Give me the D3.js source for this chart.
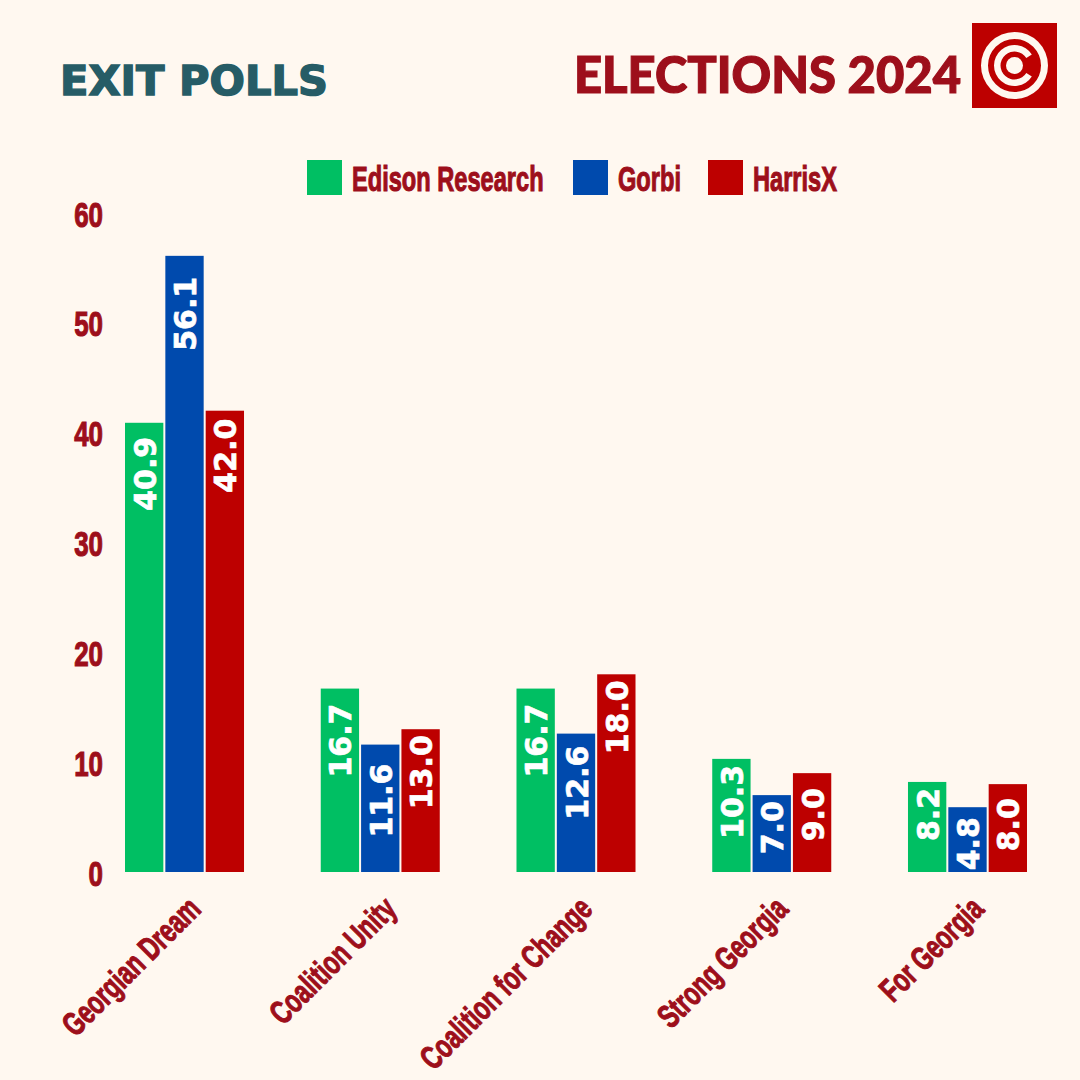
<!DOCTYPE html>
<html>
<head>
<meta charset="utf-8">
<script src="https://cdn.jsdelivr.net/npm/d3@7"></script>
<style>
html, body { margin: 0; padding: 0; background: #fff8f0; }
svg { display: block; }
</style>
</head>
<body>
<svg id="canvas" width="1080" height="1080"></svg>
<script>
var parties = ['Georgian Dream', 'Coalition Unity', 'Coalition for Change', 'Strong Georgia', 'For Georgia'];
var pollsters = ['Edison Research', 'Gorbi', 'HarrisX'];
var edison = [40.9, 16.7, 16.7, 10.3, 8.2];
// last bar is drawn about 5.9 tall in the picture though its label reads 4.8
var gorbi = [56.1, 11.6, 12.6, 7.0, 5.9];
var harris = [42.0, 13.0, 18.0, 9.0, 8.0];
var edisonLabels = ['40.9', '16.7', '16.7', '10.3', '8.2'];
var gorbiLabels = ['56.1', '11.6', '12.6', '7.0', '4.8'];
var harrisLabels = ['42.0', '13.0', '18.0', '9.0', '8.0'];
var yTicks = [0, 10, 20, 30, 40, 50, 60];
var colors = ['#00bf63', '#004aad', '#bd0000'];

var darkRed = '#9d0f1b';
var teal = '#265c66';
var paper = '#fff8f0';
var heavy = '"Liberation Sans", sans-serif';
var series = [edison, gorbi, harris];
var seriesLabels = [edisonLabels, gorbiLabels, harrisLabels];

// the labels do not sit at one distance under the bar tops, so per party, per pollster
var labelInsets = [[14, 21, 8], [15, 19, 6], [15, 12, 6], [6, 6, 15], [6, 10, 14]];

var canvas = d3.select('#canvas');

var y = d3.scaleLinear().domain([0, 60]).range([872, 213]);
var x0 = d3.scaleBand().domain(parties).range([125, 1027]).paddingInner(0.392);
var x1 = d3.scaleBand().domain(pollsters).range([0, x0.bandwidth()]).paddingInner(0.05);

// bars, one group per party
var groups = canvas.selectAll('g.party')
    .data(parties)
    .enter()
    .append('g')
    .attr('class', 'party')
    .attr('transform', function(d) { return 'translate(' + x0(d) + ',0)'; });

groups.selectAll('rect')
    .data(function(d, i) {
        return pollsters.map(function(p, j) {
            return { pollster: p, value: series[j][i], color: colors[j] };
        });
    })
    .enter()
    .append('rect')
    .attr('x', function(d) { return x1(d.pollster); })
    .attr('y', function(d) { return y(d.value); })
    .attr('width', x1.bandwidth())
    .attr('height', function(d) { return y(0) - y(d.value); })
    .attr('fill', function(d) { return d.color; });

// value labels run up the bar
groups.selectAll('text')
    .data(function(d, i) {
        return pollsters.map(function(p, j) {
            return { pollster: p, value: series[j][i], label: seriesLabels[j][i], inset: labelInsets[i][j] };
        });
    })
    .enter()
    .append('text')
    .attr('transform', function(d) {
        return 'translate(' + (x1(d.pollster) + x1.bandwidth() / 2 + 11.5) + ',' + (y(d.value) + d.inset) + ') rotate(-90)';
    })
    .attr('text-anchor', 'end')
    .attr('fill', '#ffffff')
    .attr('stroke', '#ffffff')
    .attr('stroke-width', 0.7)
    .style('font-family', '"DejaVu Sans", sans-serif')
    .style('font-weight', 'bold')
    .style('font-size', '30px')
    .text(function(d) { return d.label; });

// y axis
var yAxis = canvas.append('g')
    .attr('transform', 'translate(103,0)')
    .call(d3.axisLeft(y).tickValues(yTicks).tickSize(0).tickPadding(0));
yAxis.select('.domain').remove();
yAxis.selectAll('text')
    .attr('x', null)
    .attr('dy', null)
    .attr('y', 13)
    .attr('text-anchor', 'end')
    .attr('fill', darkRed)
    .attr('stroke', darkRed)
    .attr('stroke-width', 1.2)
    .attr('transform', 'scale(0.72,1)')
    .style('font-family', heavy)
    .style('font-weight', 'bold')
    .style('font-size', '36px');

// x axis, slanted labels
var xAxis = canvas.append('g')
    .attr('transform', 'translate(0,872)')
    .call(d3.axisBottom(x0).tickSize(0).tickPadding(0));
xAxis.select('.domain').remove();
xAxis.selectAll('text')
    .attr('x', null)
    .attr('y', null)
    .attr('dy', null)
    .attr('text-anchor', 'end')
    .attr('transform', 'translate(18,39) rotate(-45) scale(0.7,1)')
    .attr('fill', darkRed)
    .attr('stroke', darkRed)
    .attr('stroke-width', 1.1)
    .style('font-family', heavy)
    .style('font-weight', 'bold')
    .style('font-size', '33px');

// legend
var legendX = d3.scaleOrdinal().domain(pollsters).range([307, 573, 708]);
var legend = canvas.selectAll('g.legend')
    .data(pollsters)
    .enter()
    .append('g')
    .attr('class', 'legend')
    .attr('transform', function(d) { return 'translate(' + legendX(d) + ',160)'; });
legend.append('rect')
    .attr('width', 35)
    .attr('height', 35)
    .attr('fill', function(d, i) { return colors[i]; });
legend.append('text')
    .attr('transform', 'translate(45,31) scale(0.675,1)')
    .attr('fill', darkRed)
    .attr('stroke', darkRed)
    .attr('stroke-width', 1.1)
    .style('font-family', heavy)
    .style('font-weight', 'bold')
    .style('font-size', '35px')
    .text(function(d) { return d; });

// titles
canvas.append('text')
    .attr('x', 60)
    .attr('y', 95)
    .attr('textLength', 268)
    .attr('lengthAdjust', 'spacingAndGlyphs')
    .attr('fill', teal)
    .attr('stroke', teal)
    .attr('stroke-width', 1.4)
    .style('font-family', '"DejaVu Sans", sans-serif')
    .style('font-weight', 'bold')
    .style('font-size', '40px')
    .text('EXIT POLLS');

canvas.append('text')
    .attr('x', 574)
    .attr('y', 93)
    .attr('textLength', 387)
    .attr('lengthAdjust', 'spacingAndGlyphs')
    .attr('fill', darkRed)
    .attr('stroke', darkRed)
    .attr('stroke-width', 1.2)
    .style('font-family', 'Lato, sans-serif')
    .style('font-weight', 900)
    .style('font-size', '51px')
    .text('ELECTIONS 2024');

// logo
var logo = canvas.append('g').attr('transform', 'translate(1014.5,65.5)');
logo.append('rect')
    .attr('x', -42.5).attr('y', -42.5)
    .attr('width', 85).attr('height', 85)
    .attr('fill', '#bd0000');
var arc = d3.arc();
logo.append('path')
    .attr('d', arc({ innerRadius: 26.5, outerRadius: 33.5, startAngle: 0, endAngle: 2 * Math.PI }))
    .attr('fill', paper);
logo.append('path')
    .attr('d', arc({ innerRadius: 14, outerRadius: 20.5, startAngle: Math.PI * 0.68, endAngle: Math.PI * 2.32 }))
    .attr('fill', paper);
logo.append('circle').attr('r', 8.5).attr('fill', paper);
</script>
</body>
</html>
